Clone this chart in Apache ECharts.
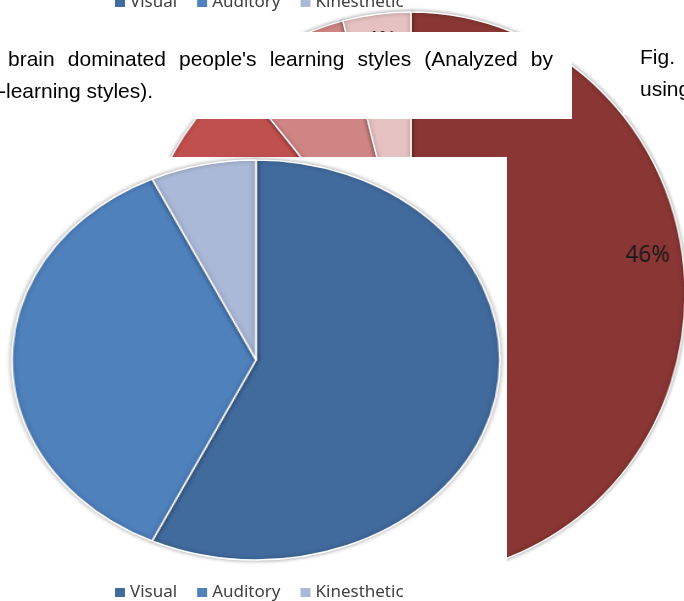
<!DOCTYPE html>
<html><head><meta charset="utf-8">
<script src="https://cdn.jsdelivr.net/npm/echarts@6/dist/echarts.min.js"></script>
<style>
html,body{margin:0;padding:0;background:#fff;overflow:hidden;width:684px;height:601px}
#red{position:absolute;left:119px;top:2px;width:584px;height:584px;transform:scaleX(0.972);transform-origin:50% 50%}
#main{position:absolute;left:0;top:0;width:684px;height:601px}
#blue{position:absolute;left:46px;top:150px;width:420px;height:420px;transform:scaleX(1.22);transform-origin:50% 50%}
</style></head><body>
<div id="red"></div><div id="main"></div><div id="blue"></div>
<script>
// ---- data ----
const blueCategories = ['Visual', 'Auditory', 'Kinesthetic'];
const blueValues = [57, 36, 7];
const blueColors = ['#416B9D', '#4F81BD', '#AAB9D7'];

const redCategories = ['Segment 1', 'Segment 2', 'Segment 3', 'Segment 4'];
const redValues = [46, 43, 7, 4];
const redColors = ['#893634', '#C0504D', '#CF8583', '#E6C1C1'];

const captionLine1 = "brain dominated people's learning styles (Analyzed by";
const captionLine2 = "-learning styles).";
const sideLines = ['Fig.', 'using'];

// ---- helpers ----
const blueData = blueCategories.map((n, i) => ({ name: n, value: blueValues[i], itemStyle: { color: blueColors[i] } }));
const redData = redCategories.map((n, i) => ({ name: n, value: redValues[i], itemStyle: { color: redColors[i] } }));

const capFont = '21px "Liberation Sans", Arial, sans-serif';
const ctx = document.createElement('canvas').getContext('2d');
ctx.font = capFont;
const words = captionLine1.split(' ');
const wWidths = words.map(w => ctx.measureText(w).width);
const lineX0 = 8, lineX1 = 553;
const gap = (lineX1 - lineX0 - wWidths.reduce((a, b) => a + b, 0)) / (words.length - 1);
const captionTexts = [];
let cx = lineX0;
words.forEach((w, i) => {
  captionTexts.push({ type: 'text', z: 11, x: cx, y: 60, style: { text: w, font: capFont, fill: '#000', textVerticalAlign: 'middle' } });
  cx += wWidths[i] + gap;
});
captionTexts.push({ type: 'text', z: 11, x: -1, y: 92, style: { text: captionLine2, font: capFont, fill: '#000', textVerticalAlign: 'middle' } });
sideLines.forEach((t, i) => {
  captionTexts.push({ type: 'text', z: 11, x: 640, y: 58 + i * 32, style: { text: t, font: capFont, fill: '#000', textVerticalAlign: 'middle' } });
});

// ---- background red pie ----
const RR = 282;
const red = echarts.init(document.getElementById('red'), null, { renderer: 'canvas' });
red.setOption({
  animation: false,
  series: [
    {
      type: 'pie', z: 2, center: ['50%', '50%'], radius: RR, startAngle: 90, silent: true,
      data: redData, label: { show: false }, labelLine: { show: false },
      itemStyle: { borderColor: '#fff', borderWidth: 1.5, shadowBlur: 4, shadowColor: 'rgba(0,0,0,0.4)' }
    },
    {
      type: 'pie', z: 3, center: ['50%', '50%'], radius: [RR * 0.72, RR], startAngle: 90, silent: true,
      data: redCategories.map((n, i) => ({ name: n, value: redValues[i] })),
      itemStyle: { color: 'rgba(0,0,0,0)', borderWidth: 0 },
      label: { show: true, position: 'inside', formatter: '{d}%', fontFamily: 'Noto Sans', fontSize: 23, color: '#1a1a1a' },
      labelLine: { show: false },
      labelLayout: function (p) { return p.dataIndex === 3 ? { dy: -9 } : (p.dataIndex === 0 ? { dy: -8 } : {}); }
    }
  ]
});

// ---- overlay: boxes, captions, legends ----
const legendCommon = {
  data: blueCategories, left: 110, icon: 'rect', itemWidth: 10, itemHeight: 9, itemGap: 20,
  selectedMode: false, z: 20,
  textStyle: { fontFamily: 'Noto Sans', fontSize: 17, color: '#404040' }
};
const main = echarts.init(document.getElementById('main'), null, { renderer: 'canvas' });
main.setOption({
  animation: false,
  legend: [
    Object.assign({}, legendCommon, { top: -11 }),
    Object.assign({}, legendCommon, { top: 579 })
  ],
  graphic: [
    { type: 'rect', z: 10, shape: { x: 0, y: 32, width: 572, height: 87 }, style: { fill: '#fff' } },
    { type: 'rect', z: 10, shape: { x: 623, y: 32, width: 61, height: 83 }, style: { fill: '#fff' } },
    { type: 'rect', z: 10, shape: { x: 0, y: 157, width: 507, height: 444 }, style: { fill: '#fff' } }
  ].concat(captionTexts),
  series: [
    {
      type: 'pie', z: 15, center: [256, 360], radius: 190, startAngle: 90, silent: true,
      data: blueData, label: { show: false }, labelLine: { show: false }
    }
  ]
});

// ---- front blue pie (elliptical) ----
const blue = echarts.init(document.getElementById('blue'), null, { renderer: 'canvas' });
blue.setOption({
  animation: false,
  series: [{
    type: 'pie', center: ['50%', '50%'], radius: 200, startAngle: 90, silent: true,
    data: blueData, label: { show: false }, labelLine: { show: false },
    itemStyle: { borderColor: '#fff', borderWidth: 1.5, shadowBlur: 4, shadowColor: 'rgba(0,0,0,0.35)' }
  }]
});
</script>
</body></html>
